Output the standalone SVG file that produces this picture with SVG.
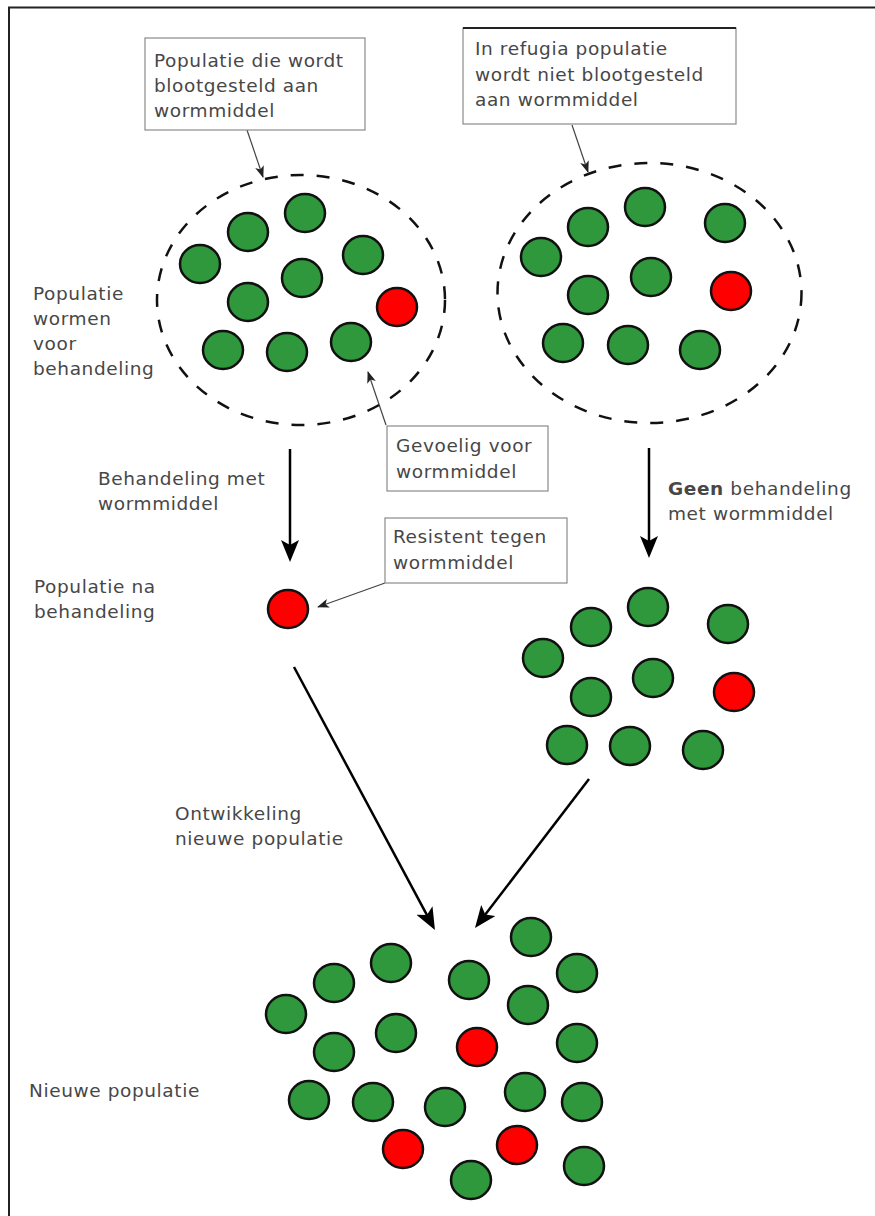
<svg xmlns="http://www.w3.org/2000/svg" width="875" height="1216" viewBox="0 0 875 1216">
<style>
text{font-family:"DejaVu Sans","Liberation Sans",sans-serif;font-size:18.5px;fill:#474747;letter-spacing:0.6px}
.g{fill:#2f973c;stroke:#111;stroke-width:2.5}
.r{fill:#ff0000;stroke:#111;stroke-width:2.5}
.pop{fill:none;stroke:#111;stroke-width:2.5;stroke-dasharray:13 13}
.box{fill:#fff;stroke:#8a8a8a;stroke-width:1.2}
.big{stroke:#000;stroke-width:2.5;fill:none;marker-end:url(#bigArrow)}
.small{stroke:#444;stroke-width:1.2;fill:none;marker-end:url(#smallArrow)}
</style>
<defs>
<marker id="bigArrow" markerUnits="userSpaceOnUse" viewBox="0 0 22 18" markerWidth="22" markerHeight="18" refX="6" refY="9" orient="auto">
<path d="M0,0 L22,9 L0,18 L5,9 Z" fill="#000"/>
</marker>
<marker id="smallArrow" markerUnits="userSpaceOnUse" viewBox="0 0 12 9" markerWidth="12" markerHeight="9" refX="11" refY="4.5" orient="auto">
<path d="M0,0 L12,4.5 L0,9 L3,4.5 Z" fill="#222"/>
</marker>
</defs>
<rect width="875" height="1216" fill="#fff"/>
<path d="M9,1216 V7.5 H875" fill="none" stroke="#222" stroke-width="2"/>

<g id="connectors">
<line class="small" x1="247" y1="130" x2="263" y2="177"/>
<line class="small" x1="572" y1="125" x2="588" y2="172"/>
<line class="small" x1="386" y1="425" x2="368" y2="372"/>
<line class="small" x1="385" y1="583" x2="318" y2="607"/>
<line class="big" x1="290" y1="449" x2="290" y2="546"/>
<line class="big" x1="649" y1="448" x2="649" y2="542"/>
<line class="big" x1="294" y1="667" x2="427.4" y2="915.9"/>
<line class="big" x1="589" y1="779" x2="484.7" y2="915.3"/>
</g>

<g id="box-exposed">
<rect class="box" x="145" y="38" width="220" height="92"/>
<text x="154" y="67">Populatie die wordt</text>
<text x="154" y="92">blootgesteld aan</text>
<text x="154" y="117">wormmiddel</text>
</g>

<g id="box-refugia">
<rect class="box" x="463" y="28" width="273" height="96"/>
<line x1="463" y1="28" x2="736" y2="28" stroke="#222" stroke-width="2"/>
<text x="475" y="55">In refugia populatie</text>
<text x="475" y="80.5">wordt niet blootgesteld</text>
<text x="475" y="106">aan wormmiddel</text>
</g>

<g id="label-before">
<text x="33" y="300">Populatie</text>
<text x="33" y="325">wormen</text>
<text x="33" y="350">voor</text>
<text x="33" y="375">behandeling</text>
</g>

<g id="population-treated">
<ellipse class="pop" cx="301" cy="300" rx="144" ry="125"/>
<ellipse class="g" cx="305" cy="213" rx="20" ry="19"/>
<ellipse class="g" cx="248" cy="232" rx="20" ry="19"/>
<ellipse class="g" cx="200" cy="264" rx="20" ry="19"/>
<ellipse class="g" cx="363" cy="255" rx="20" ry="19"/>
<ellipse class="g" cx="302" cy="278" rx="20" ry="19"/>
<ellipse class="g" cx="248" cy="302" rx="20" ry="19"/>
<ellipse class="r" cx="397" cy="307" rx="20" ry="19"/>
<ellipse class="g" cx="223" cy="350" rx="20" ry="19"/>
<ellipse class="g" cx="287" cy="352" rx="20" ry="19"/>
<ellipse class="g" cx="351" cy="342" rx="20" ry="19"/>
</g>

<g id="population-refugia">
<ellipse class="pop" cx="649.5" cy="293" rx="152" ry="130"/>
<ellipse class="g" cx="645" cy="207" rx="20" ry="19"/>
<ellipse class="g" cx="588" cy="227" rx="20" ry="19"/>
<ellipse class="g" cx="725" cy="223" rx="20" ry="19"/>
<ellipse class="g" cx="541" cy="257" rx="20" ry="19"/>
<ellipse class="g" cx="651" cy="277" rx="20" ry="19"/>
<ellipse class="g" cx="588" cy="295" rx="20" ry="19"/>
<ellipse class="r" cx="731" cy="291" rx="20" ry="19"/>
<ellipse class="g" cx="563" cy="343" rx="20" ry="19"/>
<ellipse class="g" cx="628" cy="345" rx="20" ry="19"/>
<ellipse class="g" cx="700" cy="350" rx="20" ry="19"/>
</g>

<g id="box-sensitive">
<rect class="box" x="387" y="426" width="161" height="65"/>
<text x="396" y="452">Gevoelig voor</text>
<text x="396" y="478">wormmiddel</text>
</g>

<g id="label-treatment">
<text x="98" y="485">Behandeling met</text>
<text x="98" y="510">wormmiddel</text>
</g>

<g id="label-no-treatment">
<text x="668" y="495"><tspan font-weight="bold">Geen</tspan> behandeling</text>
<text x="668" y="520">met wormmiddel</text>
</g>

<g id="box-resistant">
<rect class="box" x="385" y="518" width="182" height="65"/>
<text x="393" y="543">Resistent tegen</text>
<text x="393" y="569">wormmiddel</text>
</g>

<g id="label-after">
<text x="34" y="593">Populatie na</text>
<text x="34" y="618">behandeling</text>
</g>

<g id="population-after">
<ellipse class="r" cx="288" cy="609" rx="20" ry="19"/>
</g>

<g id="population-untreated">
<ellipse class="g" cx="648" cy="607" rx="20" ry="19"/>
<ellipse class="g" cx="591" cy="627" rx="20" ry="19"/>
<ellipse class="g" cx="728" cy="624" rx="20" ry="19"/>
<ellipse class="g" cx="543" cy="658" rx="20" ry="19"/>
<ellipse class="g" cx="653" cy="678" rx="20" ry="19"/>
<ellipse class="g" cx="591" cy="697" rx="20" ry="19"/>
<ellipse class="r" cx="734" cy="692" rx="20" ry="19"/>
<ellipse class="g" cx="567" cy="745" rx="20" ry="19"/>
<ellipse class="g" cx="630" cy="746" rx="20" ry="19"/>
<ellipse class="g" cx="703" cy="750" rx="20" ry="19"/>
</g>

<g id="label-development">
<text x="175" y="820">Ontwikkeling</text>
<text x="175" y="845">nieuwe populatie</text>
</g>

<g id="label-new">
<text x="29" y="1097">Nieuwe populatie</text>
</g>

<g id="population-new">
<ellipse class="g" cx="531" cy="937" rx="20" ry="19"/>
<ellipse class="g" cx="391" cy="963" rx="20" ry="19"/>
<ellipse class="g" cx="334" cy="983" rx="20" ry="19"/>
<ellipse class="g" cx="469" cy="980" rx="20" ry="19"/>
<ellipse class="g" cx="577" cy="973" rx="20" ry="19"/>
<ellipse class="g" cx="286" cy="1014" rx="20" ry="19"/>
<ellipse class="g" cx="528" cy="1005" rx="20" ry="19"/>
<ellipse class="g" cx="396" cy="1033" rx="20" ry="19"/>
<ellipse class="g" cx="334" cy="1052" rx="20" ry="19"/>
<ellipse class="r" cx="477" cy="1047" rx="20" ry="19"/>
<ellipse class="g" cx="577" cy="1043" rx="20" ry="19"/>
<ellipse class="g" cx="309" cy="1100" rx="20" ry="19"/>
<ellipse class="g" cx="373" cy="1102" rx="20" ry="19"/>
<ellipse class="g" cx="445" cy="1107" rx="20" ry="19"/>
<ellipse class="g" cx="525" cy="1092" rx="20" ry="19"/>
<ellipse class="g" cx="582" cy="1102" rx="20" ry="19"/>
<ellipse class="r" cx="403" cy="1149" rx="20" ry="19"/>
<ellipse class="r" cx="517" cy="1145" rx="20" ry="19"/>
<ellipse class="g" cx="471" cy="1180" rx="20" ry="19"/>
<ellipse class="g" cx="584" cy="1166" rx="20" ry="19"/>
</g>
</svg>
